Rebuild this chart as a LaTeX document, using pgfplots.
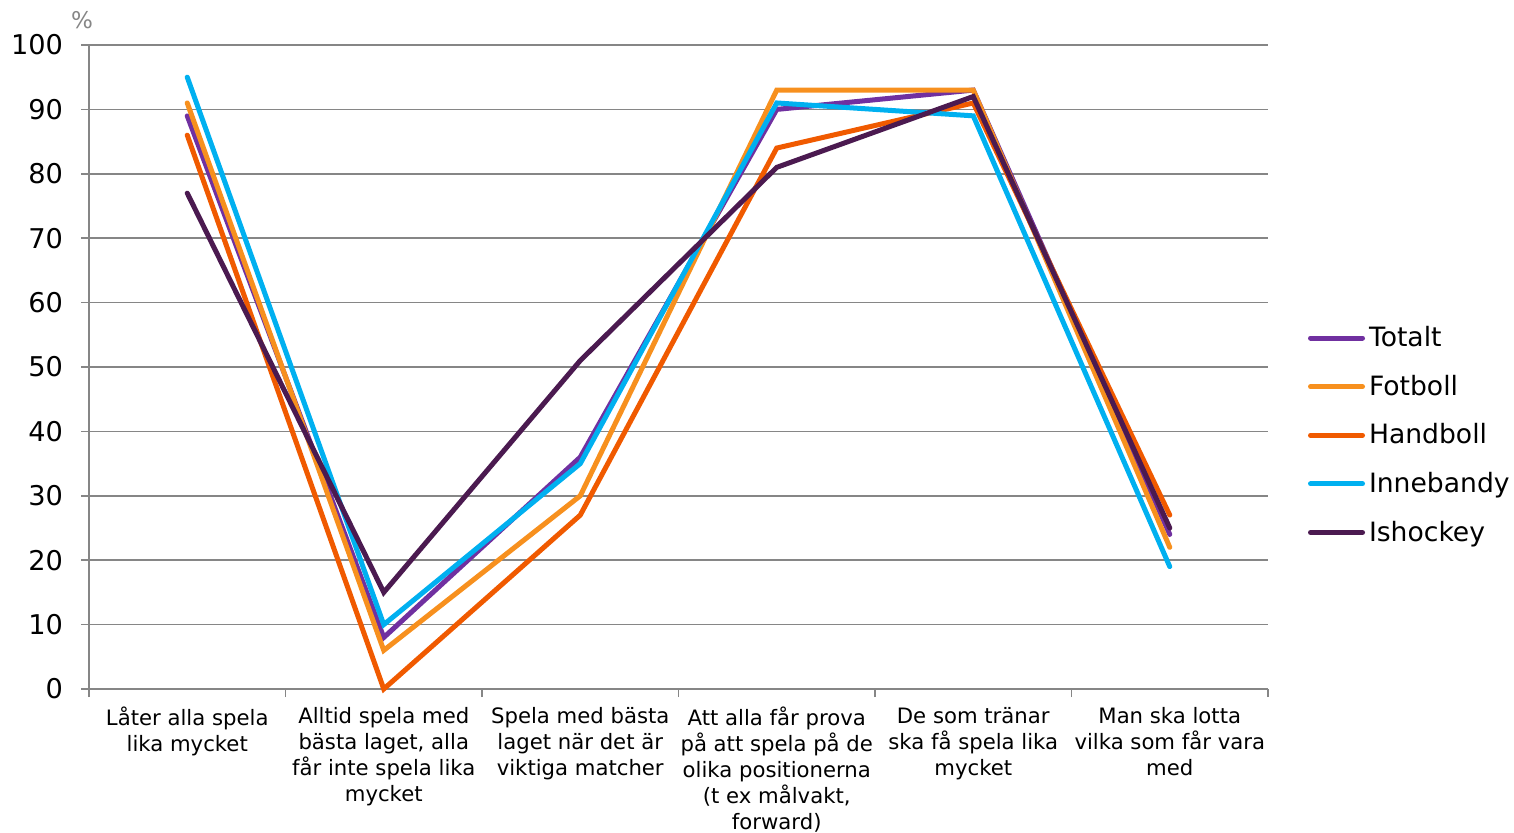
\documentclass[border=0pt]{standalone}
\usepackage{pgfplots}
\pgfplotsset{compat=1.18}
\usepackage{fontspec}
\setmainfont{DejaVu Sans}
\definecolor{cTot}{HTML}{7030A0}
\definecolor{cFot}{HTML}{F7901E}
\definecolor{cHan}{HTML}{F05A00}
\definecolor{cInn}{HTML}{00B0F0}
\definecolor{cIsh}{HTML}{4B1A50}
\definecolor{gridc}{HTML}{868686}
\begin{document}
\begin{tikzpicture}
\path[use as bounding box] (-44.5pt,-71.5pt) rectangle (712.5pt,344.5pt);
\begin{axis}[
  at={(0,0)}, anchor=south west,
  scale only axis, width=589.5pt, height=322pt,
  xmin=-0.5, xmax=5.5, ymin=0, ymax=100,
  ytick={0,10,...,100},
  xtick={0,...,5},
  xticklabels={{Låter alla spela\\lika mycket},{Alltid spela med\\bästa laget, alla\\får inte spela lika\\mycket},{Spela med bästa\\laget när det är\\viktiga matcher},{Att alla får prova\\på att spela på de\\olika positionerna\\(t ex målvakt,\\forward)},{De som tränar\\ska få spela lika\\mycket},{Man ska lotta\\vilka som får vara\\med}},
  minor xtick={-0.5,0.5,...,5.5},
  major x tick style={draw=none},
  tick align=outside,
  major tick length=4pt, minor tick length=4pt,
  tick style={gridc, line width=0.8pt},
  ymajorgrids, major grid style={gridc, line width=0.8pt},
  axis x line*=bottom, axis y line*=left,
  axis line style={gridc, line width=0.8pt},
  /pgf/number format/assume math mode=true,
  yticklabel style={font=\fontsize{13.6}{15}\selectfont, black, xshift=-5.5pt},
  xticklabel style={font=\fontsize{10.6}{13}\selectfont, black, align=center, yshift=-1.5pt},
  legend style={draw=none, fill=none, at={(1.0285,0.394)}, anchor=west,
    font=\fontsize{13.3}{15}\selectfont, row sep=8.7pt,
    /tikz/every even column/.append style={column sep=0pt}},
  legend cell align=left,
  legend image code/.code={\draw[#1, line cap=round] (0pt,0pt) -- (26pt,0pt);},
  every axis plot/.append style={line width=2.5pt, line cap=round, line join=miter, no markers},
  clip=false,
]
\addplot[cTot] coordinates {(0,89) (1,8) (2,36) (3,90) (4,93) (5,24)};
\addlegendentry{Totalt}
\addplot[cFot] coordinates {(0,91) (1,6) (2,30) (3,93) (4,93) (5,22)};
\addlegendentry{Fotboll}
\addplot[cHan] coordinates {(0,86) (1,0) (2,27) (3,84) (4,91) (5,27)};
\addlegendentry{Handboll}
\addplot[cInn] coordinates {(0,95) (1,10) (2,35) (3,91) (4,89) (5,19)};
\addlegendentry{Innebandy}
\addplot[cIsh] coordinates {(0,77) (1,15) (2,51) (3,81) (4,92) (5,25)};
\addlegendentry{Ishockey}
\node[gridc, font=\fontsize{11.5}{13}\selectfont] at ([xshift=-3.5pt,yshift=12.5pt]rel axis cs:0,1) {\%};
\end{axis}
\end{tikzpicture}
\end{document}
